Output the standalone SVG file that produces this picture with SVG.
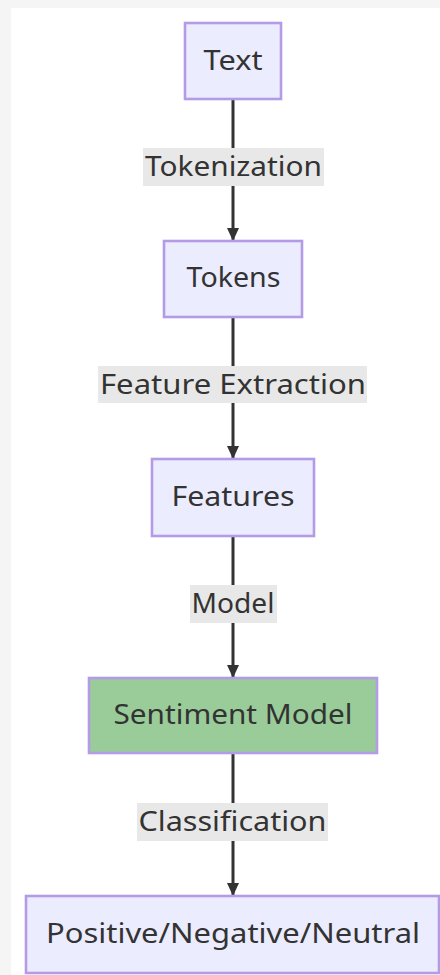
<svg xmlns="http://www.w3.org/2000/svg" width="440" height="975" viewBox="0 0 440 975">
<defs>
<style>
.node rect{fill:#ECECFF;stroke:#B49BE6;stroke-width:2.6}
.node.green rect{fill:#99CC99}
.node text,.elabel text{font-family:"Noto Sans","Open Sans","DejaVu Sans",sans-serif;font-size:27px;fill:#333;text-anchor:middle}
.elabel rect{fill:#E8E8E8}
.edge{stroke:#333;stroke-width:3;fill:none;marker-end:url(#arrow)}
</style>
<marker id="arrow" markerUnits="userSpaceOnUse" viewBox="0 0 13 12" refX="13" refY="6" markerWidth="13" markerHeight="12" orient="auto">
<path d="M0,0 L13,6 L0,12 Z" fill="#333"/>
</marker>
</defs>
<rect x="0" y="0" width="440" height="975" fill="#F5F5F5"/>
<rect x="11" y="8" width="429" height="967" fill="#FFFFFF"/>
<g id="connectors">
<path class="edge" d="M233,99 V241"/>
<path class="edge" d="M233,317 V459"/>
<path class="edge" d="M233,536 V678"/>
<path class="edge" d="M233,753 V896"/>
<g class="elabel" id="label-tokenization"><rect x="143" y="148" width="181" height="38"/><text x="233.5" y="176" textLength="177" lengthAdjust="spacingAndGlyphs">Tokenization</text></g>
<g class="elabel" id="label-feature-extraction"><rect x="98" y="366" width="269" height="37"/><text x="233" y="394" textLength="266" lengthAdjust="spacingAndGlyphs">Feature Extraction</text></g>
<g class="elabel" id="label-model"><rect x="190" y="585" width="87" height="38"/><text x="233" y="613" textLength="83" lengthAdjust="spacingAndGlyphs">Model</text></g>
<g class="elabel" id="label-classification"><rect x="137" y="803" width="191" height="38"/><text x="232.5" y="831" textLength="188" lengthAdjust="spacingAndGlyphs">Classification</text></g>
</g>
<g class="node" id="node-text"><rect x="185" y="23" width="96" height="76"/><text x="233" y="69.5" textLength="59" lengthAdjust="spacingAndGlyphs">Text</text></g>
<g class="node" id="node-tokens"><rect x="164" y="241" width="138" height="76"/><text x="233.5" y="287" textLength="94" lengthAdjust="spacingAndGlyphs">Tokens</text></g>
<g class="node" id="node-features"><rect x="152" y="459" width="162" height="77"/><text x="233" y="505.5" textLength="123" lengthAdjust="spacingAndGlyphs">Features</text></g>
<g class="node green" id="node-sentiment-model"><rect x="89" y="678" width="288" height="75"/><text x="233" y="724" textLength="239" lengthAdjust="spacingAndGlyphs">Sentiment Model</text></g>
<g class="node" id="node-output"><rect x="26" y="896" width="413" height="77"/><text x="233" y="943" textLength="374" lengthAdjust="spacingAndGlyphs">Positive/Negative/Neutral</text></g>
</svg>
